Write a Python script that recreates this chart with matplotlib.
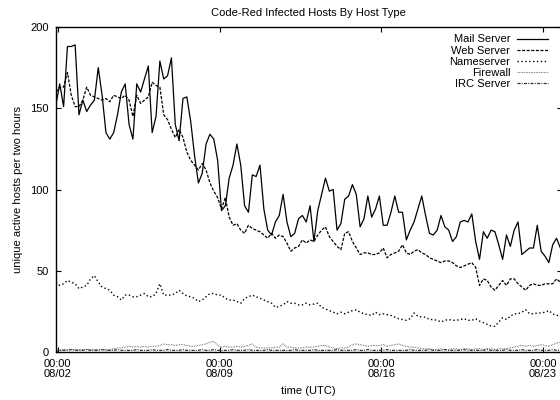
import numpy as np
import matplotlib
matplotlib.use('Agg')
import matplotlib.pyplot as plt

plt.rcParams['font.family'] = ['Liberation Sans', 'DejaVu Sans']
plt.rcParams['lines.scale_dashes'] = False

# samples every 4 hours, starting 08/01 22:00 UTC
start = np.datetime64('2001-08-01T22:00')

mail = [152, 165, 151, 188, 188, 189, 146, 155, 148, 152,
        155, 175, 158, 135, 131, 135, 146, 160, 165, 140,
        131, 165, 160, 168, 176, 135, 145, 179, 168, 170,
        181, 140, 130, 156, 157, 142, 121, 104, 110, 128,
        134, 131, 118, 87, 90, 107, 115, 128, 115, 90,
        86, 109, 108, 115, 88, 75, 72, 80, 84, 97,
        80, 71, 73, 82, 84, 80, 90, 68, 87, 97,
        107, 99, 100, 75, 79, 94, 96, 103, 97, 77,
        82, 96, 83, 88, 96, 78, 78, 86, 96, 86,
        86, 69, 75, 80, 88, 96, 84, 73, 72, 75,
        84, 77, 75, 68, 71, 80, 81, 80, 85, 68,
        57, 74, 70, 75, 74, 66, 57, 72, 65, 75,
        80, 60, 62, 64, 64, 78, 62, 59, 55, 66,
        70, 64]

web = [160, 163, 163, 172, 158, 151, 151, 155, 163, 158,
       157, 156, 155, 156, 154, 158, 157, 156, 158, 155,
       145, 158, 153, 155, 157, 166, 164, 163, 146, 143,
       137, 132, 137, 132, 123, 118, 115, 112, 116, 112,
       104, 99, 95, 88, 95, 83, 78, 79, 75, 73,
       78, 76, 75, 74, 72, 70, 73, 70, 72, 71,
       67, 62, 64, 65, 69, 67, 69, 68, 72, 75,
       77, 71, 68, 65, 63, 73, 74, 68, 64, 60,
       61, 61, 60, 60, 61, 64, 58, 60, 61, 62,
       66, 61, 60, 62, 63, 61, 60, 58, 57, 56,
       55, 56, 56, 55, 53, 52, 53, 54, 55, 52,
       41, 45, 44, 40, 38, 41, 44, 41, 45, 45,
       42, 40, 38, 41, 42, 41, 41, 42, 42, 42,
       45, 43]

nameserver = [43, 41, 42, 44, 43, 42, 39, 40, 41, 45,
              47, 43, 40, 39, 38, 35, 34, 32, 35, 35,
              34, 34, 35, 36, 34, 34, 36, 42, 35, 35,
              35, 36, 38, 36, 34.5, 34, 33, 31, 32, 34,
              36, 36, 35, 35, 33, 32, 32, 31, 30, 33,
              34, 35, 34, 33, 32, 31, 30, 27.5, 28, 29,
              31, 30, 30, 29, 29, 30, 29, 29.5, 30, 27.5,
              26.5, 25.5, 24.5, 23.5, 24.5, 23.5, 24.5, 25.5, 26, 24.5,
              23.5, 23, 22.5, 24.5, 23, 23.5, 23, 22.5, 21.5, 20.5,
              20, 19.5, 20.5, 24, 22, 21.5, 21.5, 20, 20, 19.5,
              18.5, 19.5, 20, 19.5, 19.5, 20, 20.5, 19.5, 19.5, 20.5,
              19, 18, 17, 16, 15.8, 18.5, 21, 20, 22, 23.5,
              23.5, 24.5, 26, 23.5, 23.5, 24, 24, 24.5, 25.5, 23.5,
              22.5, 22.5]

firewall = [0.5, 1, 1.5, 1.5, 1.5, 1.5, 1.5, 1.5, 1.5, 1.5,
            1.5, 1.5, 1.5, 1.5, 1.5, 2, 2.5, 2.5, 3, 3.5,
            3, 3.5, 3, 3.5, 3, 3.5, 3.5, 4, 5, 4.5,
            4.5, 4, 4.5, 4.5, 4, 3.5, 3.5, 4, 4.5, 5,
            6, 6.5, 4, 3, 3.5, 3, 3, 3.5, 3, 3.5,
            4, 5, 3, 2.5, 2.5, 2.5, 2.5, 3, 3, 5,
            3, 3, 2.5, 2.5, 2.5, 3, 3, 3, 3.5, 4,
            4, 3, 2.5, 2, 2.5, 2.5, 3, 4.5, 5, 4.5,
            4, 3.5, 4, 4, 4, 4.5, 3.5, 4, 4.5, 5,
            4, 3.5, 3, 3, 2.5, 2, 2, 2, 1.5, 1.5,
            2, 1.5, 1.5, 2, 2, 1.5, 2, 2, 1.5, 2,
            2, 1.5, 2, 2, 1.5, 2, 2, 2, 2.5, 3,
            3.5, 4, 3.5, 4, 3.5, 4, 4.5, 4, 3.5, 4.5,
            5.5, 6]

irc = [0.5, 1, 1, 1, 1.5, 1, 1, 1, 1.5, 1,
       1, 1, 1.5, 1, 1, 1, 1.5, 1, 1, 1,
       1, 1.5, 1, 1, 1, 1.5, 1, 1, 1, 1.5,
       1, 1, 1, 1.5, 1, 1, 1, 1, 1.5, 1,
       1, 1.5, 1, 1, 1, 1, 1.5, 1, 1, 1,
       1.5, 1, 1, 1, 1, 1.5, 1, 1, 1, 1,
       1, 1, 1.5, 1, 1, 1, 1, 1.5, 1, 1,
       1, 1, 1, 1.5, 1, 1, 1, 1, 1.5, 1,
       1, 1.5, 1, 1, 1, 1, 1.5, 1, 1, 1,
       1, 1, 1.5, 1, 1, 1, 1, 1.5, 1, 1,
       1, 1.5, 1, 1, 1, 1, 1.5, 1, 1, 1,
       1, 1, 1.5, 1, 1, 1, 1, 1.5, 1, 1,
       1, 1.5, 1, 1, 1, 1.5, 1, 1, 1, 1.5,
       1, 1]

t = start + np.arange(len(mail)) * np.timedelta64(4, 'h')

tick_days = ['2001-08-02', '2001-08-09', '2001-08-16', '2001-08-23']
tick_labels = ['00:00\n08/02', '00:00\n08/09', '00:00\n08/16', '00:00\n08/23']

fs = 8
fig = plt.figure(figsize=(5.6, 4.0), dpi=100)
ax = fig.add_axes([55.5 / 560, 48 / 400, 506.5 / 560, 325 / 400])

ax.plot(t, mail, color='k', lw=0.9, label='Mail Server')
ax.plot(t, web, color='k', lw=0.9, dashes=(2.2, 1.1), label='Web Server')
ax.plot(t, nameserver, color='k', lw=1.0, dashes=(1.0, 1.8), label='Nameserver')
ax.plot(t, firewall, color='0.35', lw=0.8, dashes=(0.5, 0.7), label='Firewall')
ax.plot(t, irc, color='0.2', lw=0.9, dashes=(2.2, 0.9, 0.7, 0.9), label='IRC Server')

ax.set_xlim(np.datetime64('2001-08-01T21:36'), np.datetime64('2001-08-23T19:40'))
ax.set_ylim(0, 200)
ax.set_yticks([0, 50, 100, 150, 200])
ax.set_xticks([np.datetime64(d) for d in tick_days])
ax.set_xticklabels(tick_labels, linespacing=1.05)
ax.tick_params(direction='in', length=3.6, width=0.8, top=True, right=True,
               labelsize=fs, pad=5)
for s in ax.spines.values():
    s.set_linewidth(1.0)

ax.set_title('Code-Red Infected Hosts By Host Type', fontsize=fs, pad=8)
ax.set_xlabel('time (UTC)', fontsize=fs, labelpad=5)
ax.set_ylabel('unique active hosts per two hours', fontsize=fs, labelpad=5)

# markerfirst=False puts the sample on the right and right-aligns the labels
ax.legend(loc='upper right', bbox_to_anchor=(548 / 560, 1 - 34.5 / 400),
          bbox_transform=fig.transFigure, frameon=False, markerfirst=False,
          fontsize=fs, handlelength=2.8, handletextpad=0.6,
          labelspacing=0.1, borderpad=0, borderaxespad=0)

fig.savefig('out.png', dpi=100)
